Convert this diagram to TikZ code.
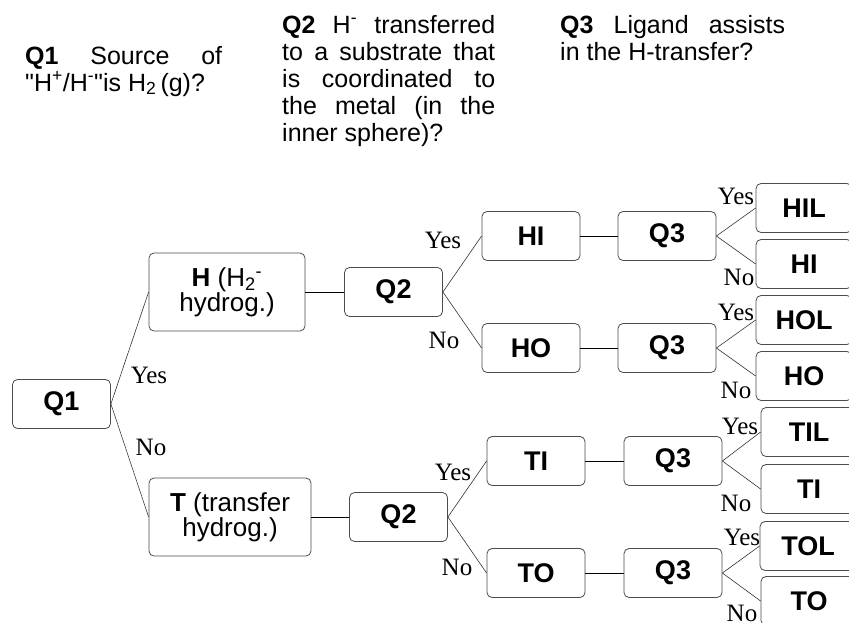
\documentclass[tikz,border=0pt]{standalone}
\usepackage{fontspec}
\setmainfont{Liberation Sans}
\newfontfamily\plainsans{Liberation Sans}
\newfontfamily\lblfont{Liberation Serif}
\begin{document}
\begin{tikzpicture}[x=1pt,y=-1pt,
  box/.style={draw=black!70, line width=0.8pt, rounded corners=5pt, minimum width=98pt, minimum height=49pt, inner sep=0pt, font=\fontsize{27}{25}\selectfont\bfseries, fill=white},
  wbox/.style={box, font=\fontsize{26}{25}\selectfont, align=center},
  leaf/.style={box, minimum width=96pt},
  lbl/.style={font=\lblfont\fontsize{25}{25}\selectfont, inner sep=0pt},
  con/.style={draw=black!80, line width=0.6pt},
  hcon/.style={draw=black, line width=1pt},
  hdr/.style={anchor=base west, inner sep=0pt}]
\clip (0,0) rectangle (849,622);
% headers
\node[hdr] (h1) at (25,64) {\parbox[t]{197pt}{\plainsans\fontsize{25}{27}\selectfont
  \makebox[197pt][s]{\textbf{Q1} Source of}\\
  "H\textsuperscript{+}/H\textsuperscript{-}"is H\textsubscript{2}\,(g)?}};
\node[hdr] (h2) at (282,33) {\parbox[t]{213pt}{\fontsize{25}{27}\selectfont
  \makebox[213pt][s]{\textbf{Q2} H\textsuperscript{-} transferred}\\
  \makebox[213pt][s]{to a substrate that}\\
  \makebox[213pt][s]{is coordinated to}\\
  \makebox[213pt][s]{the metal (in the}\\
  inner sphere)?}};
\node[hdr] (h3) at (560,33) {\parbox[t]{225pt}{\fontsize{25}{27}\selectfont
  \makebox[225pt][s]{\textbf{Q3} Ligand assists}\\
  in the H-transfer?}};
% nodes
\node[box] (q1) at (61.5,404) {Q1};
\node[wbox, minimum width=156pt, minimum height=78pt] (h) at (227,292) {\textbf{H} (H\textsubscript{2}\textsuperscript{-}\\hydrog.)};
\node[wbox, minimum width=162pt, minimum height=78pt] (t) at (230,517) {\textbf{T} (transfer\\hydrog.)};
\node[box] (q2a) at (393.5,292) {Q2};
\node[box] (q2b) at (398.5,517) {Q2};
\node[box] (hi) at (531,236) {HI};
\node[box] (ho) at (531,348) {HO};
\node[box] (q3a) at (667,236) {Q3};
\node[box] (q3b) at (667,348) {Q3};
\node[box] (ti) at (536,461) {TI};
\node[box] (to) at (536,573) {TO};
\node[box] (q3c) at (673,461) {Q3};
\node[box] (q3d) at (673,573) {Q3};
\node[leaf] (hil) at (804,208) {HIL};
\node[leaf] (hi2) at (804,264) {HI};
\node[leaf] (hol) at (804,320) {HOL};
\node[leaf] (ho2) at (804,376) {HO};
\node[leaf] (til) at (809,432) {TIL};
\node[leaf] (ti2) at (809,489) {TI};
\node[leaf] (tol) at (808,546) {TOL};
\node[leaf] (to2) at (809,601) {TO};
% connectors
\draw[con] (q1.east) -- (h.west);
\draw[con] (q1.east) -- (t.west);
\draw[hcon] (h.east) -- (q2a.west);
\draw[hcon] (t.east) -- (q2b.west);
\draw[con] (q2a.east) -- (hi.west);
\draw[con] (q2a.east) -- (ho.west);
\draw[con] (q2b.east) -- (ti.west);
\draw[con] (q2b.east) -- (to.west);
\draw[hcon] (hi.east) -- (q3a.west);
\draw[hcon] (ho.east) -- (q3b.west);
\draw[hcon] (ti.east) -- (q3c.west);
\draw[hcon] (to.east) -- (q3d.west);
\draw[con] (q3a.east) -- (hil.west);
\draw[con] (q3a.east) -- (hi2.west);
\draw[con] (q3b.east) -- (hol.west);
\draw[con] (q3b.east) -- (ho2.west);
\draw[con] (q3c.east) -- (til.west);
\draw[con] (q3c.east) -- (ti2.west);
\draw[con] (q3d.east) -- (tol.west);
\draw[con] (q3d.east) -- (to2.west);
% labels
\node[lbl] (l1y) at (149,375) {Yes};
\node[lbl] (l1n) at (151,447) {No};
\node[lbl] (l2y) at (443,240) {Yes};
\node[lbl] (l2n) at (444,340) {No};
\node[lbl] (l3y) at (453,472) {Yes};
\node[lbl] (l3n) at (457,567) {No};
\node[lbl] (l4y) at (736,196) {Yes};
\node[lbl] (l4n) at (739,277) {No};
\node[lbl] (l5y) at (736,312) {Yes};
\node[lbl] (l5n) at (736,390) {No};
\node[lbl] (l6y) at (740,426) {Yes};
\node[lbl] (l6n) at (736,503) {No};
\node[lbl] (l7y) at (742,537) {Yes};
\node[lbl] (l7n) at (742,613) {No};
\end{tikzpicture}
\end{document}
